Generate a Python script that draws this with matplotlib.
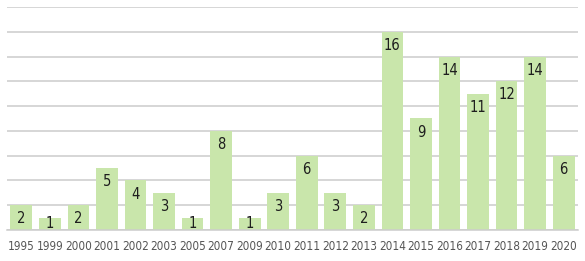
import matplotlib
matplotlib.use('Agg')
import matplotlib.pyplot as plt

years = ['1995', '1999', '2000', '2001', '2002', '2003', '2005', '2007', '2009', '2010',
         '2011', '2012', '2013', '2014', '2015', '2016', '2017', '2018', '2019', '2020']
counts = [2, 1, 2, 5, 4, 3, 1, 8, 1, 3, 6, 3, 2, 16, 9, 14, 11, 12, 14, 6]

plt.rcParams['font.family'] = ['DejaVu Sans']
plt.rcParams['font.stretch'] = 'condensed'

fig = plt.figure(figsize=(5.85, 2.61), dpi=100)
ax = fig.add_axes([0.012, 0.119, 0.976, 0.854])

x = list(range(len(years)))
ax.bar(x, counts, width=0.76, color='#c9e6ab', zorder=2)

# value labels sit just inside the top of each bar
for xi, v in zip(x, counts):
    ax.text(xi, max(v - 1.1, 0.5), str(v), ha='center', va='center',
            fontsize=10.5, color='#1e1e1e', zorder=3)

ax.set_ylim(0, 18)
ax.set_xlim(-0.5, len(years) - 0.5)
ax.set_yticks(range(0, 19, 2))
ax.yaxis.grid(True, color='#cccccc', lw=1.1, zorder=0)
ax.tick_params(axis='y', left=False, labelleft=False)
ax.tick_params(axis='x', length=0, pad=7, labelsize=8.5, colors='#555555')
ax.set_xticks(x)
ax.set_xticklabels(years)
for s in ['top', 'right', 'left']:
    ax.spines[s].set_visible(False)
ax.spines['bottom'].set_color('#cccccc')
ax.spines['bottom'].set_linewidth(1.1)

fig.savefig('out.png', dpi=100)
